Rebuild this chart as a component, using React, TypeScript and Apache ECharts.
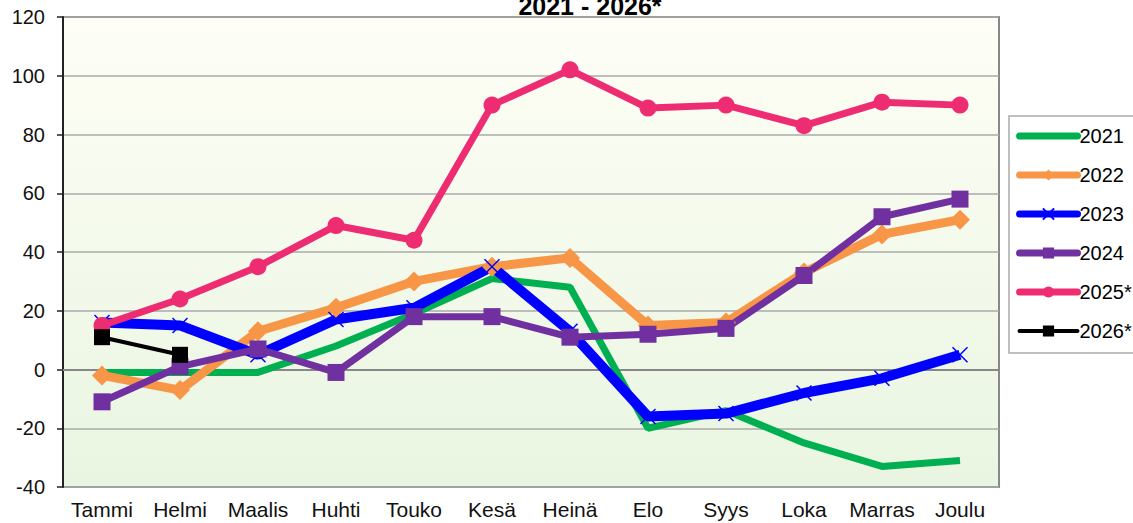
import React, { useEffect, useRef } from "react";
import * as echarts from "echarts";

const months = ["Tammi", "Helmi", "Maalis", "Huhti", "Touko", "Kesä", "Heinä", "Elo", "Syys", "Loka", "Marras", "Joulu"];
const y2021 = [-1, -1, -1, 8, 19, 31, 28, -20, -14, -25, -33, -31];
const y2022 = [-2, -7, 13, 21, 30, 35, 38, 15, 16, 33, 46, 51];
const y2023 = [16, 15, 5, 17, 21, 35, 13, -16, -15, -8, -3, 5];
const y2024 = [-11, 1, 7, -1, 18, 18, 11, 12, 14, 32, 52, 58];
const y2025 = [15, 24, 35, 49, 44, 90, 102, 89, 90, 83, 91, 90];
const y2026 = [11, 5];
const yTicks = { min: -40, max: 120, interval: 20 };
const title = "2021 - 2026*";

const FONT = "'Liberation Sans', Arial, sans-serif";
const C21 = "#00b050";
const C22 = "#f79646";
const C23 = "#0000ff";
const C24 = "#7030a0";
const C25 = "#ee2c72";
const C26 = "#000000";

export default function App() {
  const ref = useRef<HTMLDivElement>(null);
  useEffect(() => {
    document.body.style.margin = "0";
    const chart = echarts.init(ref.current!, null, { renderer: "svg" });
    const cross = "path://M0,0L10,10M10,0L0,10";
    chart.setOption({
      animation: false,
      textStyle: { fontFamily: FONT },
      grid: {
        left: 63,
        right: 134,
        top: 17,
        bottom: 36,
        show: true,
        borderColor: "#888",
        borderWidth: 2,
        backgroundColor: new echarts.graphic.LinearGradient(0, 0, 0, 1, [
          { offset: 0, color: "#fefef6" },
          { offset: 1, color: "#e9f5e1" },
        ]),
      },
      graphic: [
        {
          type: "text",
          x: 590,
          y: 18,
          z: 100,
          style: { text: title, font: `bold 25px ${FONT}`, textAlign: "center", textVerticalAlign: "bottom", fill: "#000" },
        },
        {
          type: "rect",
          shape: { x: 1009, y: 116, width: 140, height: 237 },
          style: { fill: "#fff", stroke: "#aaa", lineWidth: 1.5 },
          z: -1,
        },
      ],
      legend: {
        orient: "vertical",
        left: 1016,
        top: 126,
        padding: 0,
        itemWidth: 58,
        itemHeight: 14,
        itemGap: 19,
        textStyle: { fontSize: 20, color: "#000", fontFamily: FONT, padding: [0, 0, 0, -3] },
        data: [
          { name: "2021", itemStyle: { color: "transparent", borderWidth: 0 }, lineStyle: { width: 7, color: C21, cap: "round" } },
          { name: "2022", lineStyle: { width: 7, color: C22, cap: "round" } },
          { name: "2023", lineStyle: { width: 7, color: C23, cap: "round" } },
          { name: "2024", lineStyle: { width: 7, color: C24, cap: "round" } },
          { name: "2025*", lineStyle: { width: 7, color: C25, cap: "round" } },
          { name: "2026*", lineStyle: { width: 4, color: C26, cap: "round" } },
        ],
      },
      xAxis: {
        type: "category",
        data: months,
        boundaryGap: true,
        axisLine: { lineStyle: { color: "#888", width: 2 } },
        axisTick: { show: false },
        axisLabel: { fontSize: 21, color: "#111", margin: 12, fontFamily: FONT, interval: 0 },
        splitLine: { show: false },
      },
      yAxis: {
        type: "value",
        min: yTicks.min,
        max: yTicks.max,
        interval: yTicks.interval,
        axisLine: { show: true, lineStyle: { color: "#222", width: 2 } },
        axisTick: { show: true, length: 6, lineStyle: { color: "#222", width: 1.5 } },
        axisLabel: { fontSize: 20, color: "#111", margin: 18, fontFamily: FONT },
        splitLine: { lineStyle: { color: "#aaa", width: 1.5 } },
      },
      series: [
        {
          name: "2021",
          type: "line",
          data: y2021,
          symbol: "none",
          lineStyle: { color: C21, width: 7 },
          itemStyle: { color: C21 },
        },
        {
          name: "2022",
          type: "line",
          data: y2022,
          symbol: "diamond",
          symbolSize: 20,
          lineStyle: { color: C22, width: 9 },
          itemStyle: { color: C22 },
        },
        {
          name: "2023",
          type: "line",
          data: y2023,
          symbol: cross,
          symbolSize: 15,
          lineStyle: { color: C23, width: 10 },
          itemStyle: { color: "transparent", borderColor: C23, borderWidth: 1.5 },
        },
        {
          name: "2024",
          type: "line",
          data: y2024,
          symbol: "rect",
          symbolSize: 17,
          lineStyle: { color: C24, width: 7 },
          itemStyle: { color: C24 },
        },
        {
          name: "2025*",
          type: "line",
          data: y2025,
          symbol: "circle",
          symbolSize: 17,
          lineStyle: { color: C25, width: 7 },
          itemStyle: { color: C25 },
        },
        {
          name: "2026*",
          type: "line",
          data: y2026,
          symbol: "rect",
          symbolSize: 16,
          lineStyle: { color: C26, width: 4 },
          itemStyle: { color: C26 },
        },
      ],
    });
    return () => chart.dispose();
  }, []);
  return <div ref={ref} style={{ width: 1133, height: 523 }} />;
}
